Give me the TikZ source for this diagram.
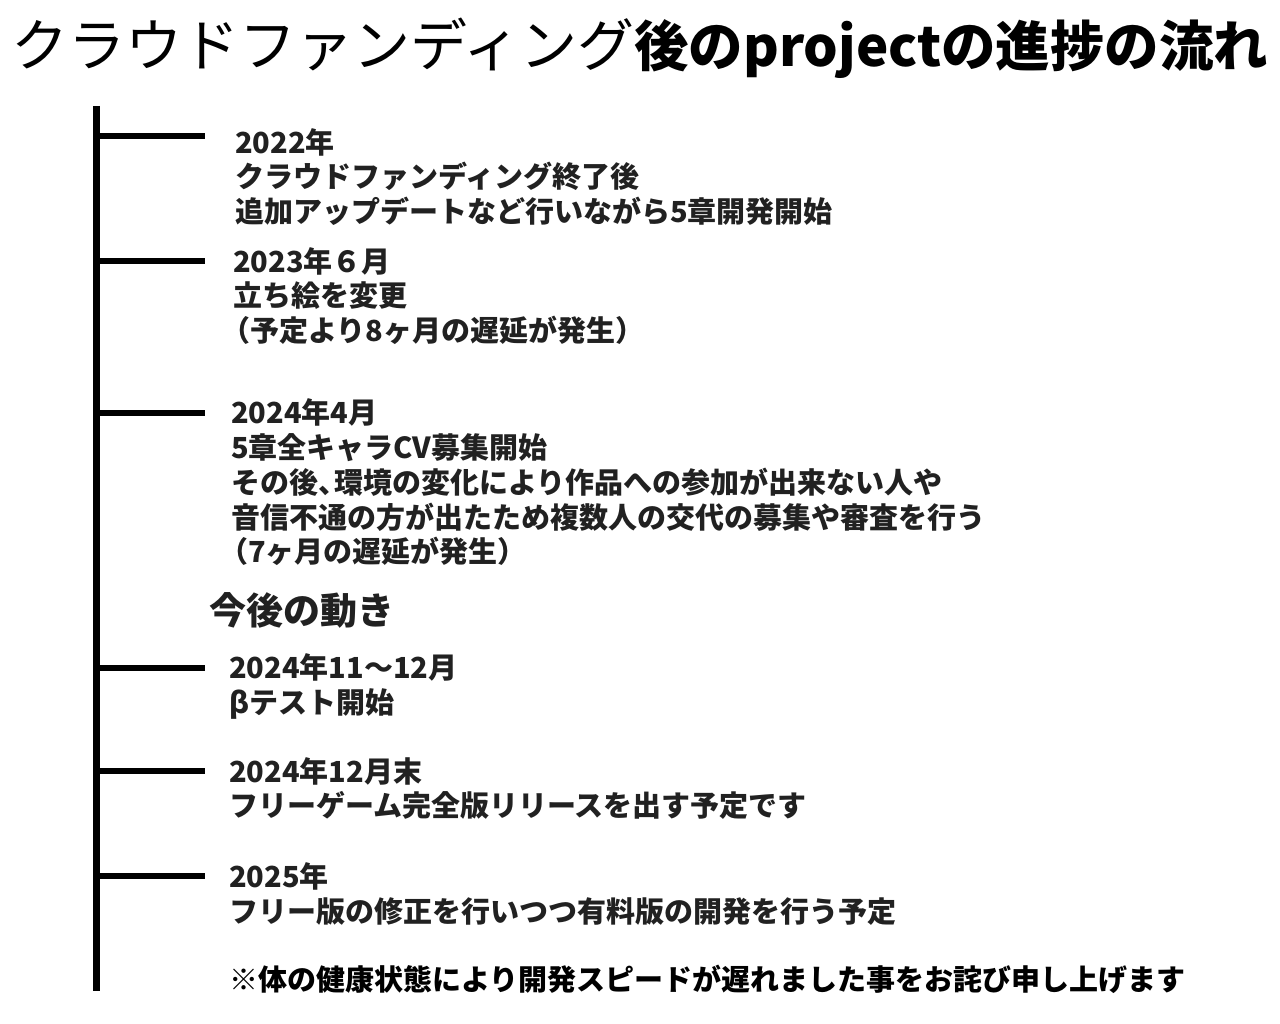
\documentclass[tikz,border=0pt]{standalone}
\usepackage{fontspec}
\setmainfont{Noto Sans CJK JP}
\begin{document}
\begin{tikzpicture}[x=1pt,y=-1pt,
  bar/.style={line width=7pt,black},
  tick/.style={line width=6pt,black},
  txt/.style={anchor=west,inner sep=0pt,text=black!87,font=\fontsize{29}{29}\selectfont\bfseries,text height=25pt,text depth=3.5pt},
  head/.style={anchor=west,inner sep=0pt,text=black!87,font=\fontsize{37}{37}\selectfont\bfseries},
  ttl/.style={anchor=west,inner sep=0pt,text=black,font=\fontsize{57}{57}\selectfont}
]
\useasboundingbox[fill=white] (0,0) rectangle (1280,1024);
\node[ttl] (title) at (11,48) {クラウドファンディング{\fontsize{54.5}{57}\selectfont\bfseries 後のprojectの進捗の流れ}};

\coordinate (top) at (96.5,106);
\coordinate (bot) at (96.5,991);
\draw[bar] (top) -- (bot);

\foreach \n/\y in {1/136,2/261.5,3/413,4/668,5/771,6/876}{
  \coordinate (s\n) at (96.5,\y);
  \coordinate (e\n) at (205,\y);
  \draw[tick] (s\n) -- (e\n);
}

\node[txt] (a1) at (235,143) {2022年};
\node[txt] (a2) at (235,177) {クラウドファンディング終了後};
\node[txt] (a3) at (235,212) {追加アップデートなど行いながら5章開発開始};

\node[txt] (b1) at (233,262) {2023年６月};
\node[txt] (b2) at (233,296) {立ち絵を変更};
\node[txt] (b3) at (221,331) {（予定より8ヶ月の遅延が発生）};

\node[txt] (c1) at (231,413) {2024年4月};
\node[txt] (c2) at (231,448) {5章全キャラCV募集開始};
\node[txt] (c3) at (231,483) {その後、\hspace{-13pt}環境の変化により作品への参加が出来ない人や};
\node[txt] (c4) at (231,518) {音信不通の方が出たため複数人の交代の募集や審査を行う};
\node[txt] (c5) at (219,552) {（7ヶ月の遅延が発生）};

\node[head] (h) at (209,610) {今後の動き};

\node[txt] (d1) at (229,668) {2024年11～12月};
\node[txt] (d2) at (229,703) {βテスト開始};

\node[txt] (f1) at (229,772) {2024年12月末};
\node[txt] (f2) at (229,806) {フリーゲーム完全版リリースを出す予定です};

\node[txt] (g1) at (229,877) {2025年};
\node[txt] (g2) at (229,912) {フリー版の修正を行いつつ有料版の開発を行う予定};
\node[txt,text=black] (g3) at (229,980) {※体の健康状態により開発スピードが遅れました事をお詫び申し上げます};
\end{tikzpicture}
\end{document}
